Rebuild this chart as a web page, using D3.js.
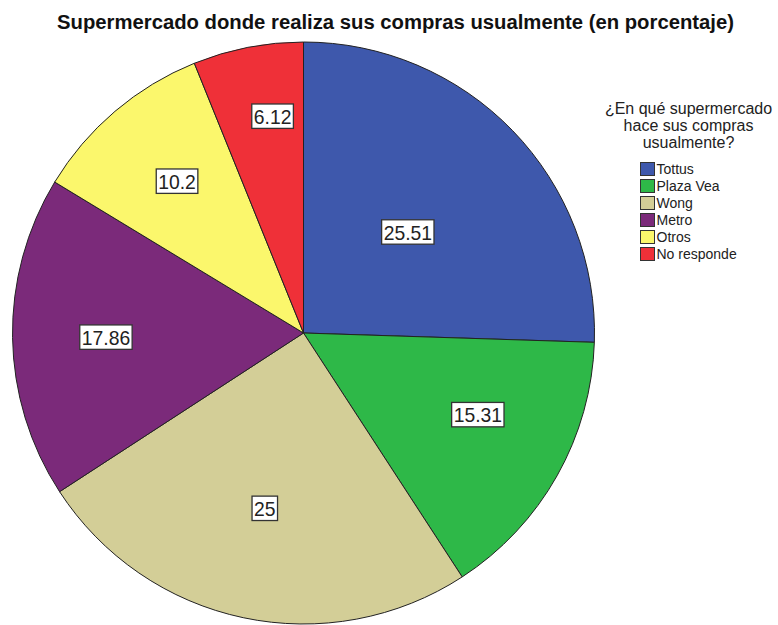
<!DOCTYPE html>
<html><head><meta charset="utf-8">
<script src="https://cdn.jsdelivr.net/npm/d3@7"></script>
<style>body{margin:0;background:#fff;}svg{display:block;}text{font-family:"Liberation Sans",Arial,sans-serif;}</style>
</head><body>
<svg id="c" width="778" height="625"></svg>
<script>
const categories = ["Tottus","Plaza Vea","Wong","Metro","Otros","No responde"];
const values = [25.51,15.31,25,17.86,10.2,6.12];
const labels = ["25.51","15.31","25","17.86","10.2","6.12"];
const colors = ["#3e58ac","#2eb848","#d3ce97","#7b2a7a","#fbf76c","#ef3038"];
// label placement tweaks (layout only)
const labelRadiusFrac = [0.499,0.6615,0.617,0.679,0.679,0.7526];
const labelAngleShift = [0,-4.3,0.5,-0.3,0.6,2.9];
const titleText = "Supermercado donde realiza sus compras usualmente (en porcentaje)";
const legendTitle = ["¿En qué supermercado","hace sus compras","usualmente?"];

const svg = d3.select("#c");
const cx = 303.5, cy = 333, r = 291;

svg.append("text").attr("x",395.5).attr("y",29).attr("text-anchor","middle")
  .attr("font-size",20).attr("font-weight","bold").attr("fill","#111")
  .attr("textLength",677).attr("lengthAdjust","spacingAndGlyphs").text(titleText);

const pie = d3.pie().sort(null).value(d=>d)(values);
const arc = d3.arc().innerRadius(0).outerRadius(r);
const g = svg.append("g").attr("transform",`translate(${cx},${cy})`);
g.selectAll("path.s").data(pie).join("path").attr("class","s")
  .attr("d",arc).attr("fill",(d,i)=>colors[i]).attr("stroke","#222").attr("stroke-width",1);

const lg = g.selectAll("g.l").data(pie).join("g").attr("class","l")
  .attr("transform",(d,i)=>{
    const a = (d.startAngle+d.endAngle)/2 + labelAngleShift[i]*Math.PI/180;
    const rr = r*labelRadiusFrac[i];
    return `translate(${rr*Math.sin(a)},${-rr*Math.cos(a)})`;});
lg.each(function(d,i){
  const s=d3.select(this);
  const t=s.append("text").attr("text-anchor","middle").attr("dy","0.37em")
    .attr("font-size",21).attr("fill","#222").text(labels[i]);
  const w=t.node().getComputedTextLength()*0.92;
  t.attr("textLength",w).attr("lengthAdjust","spacingAndGlyphs");
  s.insert("rect","text").attr("x",-w/2-2).attr("y",-12.2).attr("width",w+4).attr("height",24.4)
    .attr("fill","#fff").attr("stroke","#333").attr("stroke-width",1.3);
});

const lx = 688.5;
svg.selectAll("text.lt").data(legendTitle).join("text").attr("class","lt")
  .attr("x",lx).attr("y",(d,i)=>114+i*17).attr("text-anchor","middle")
  .attr("font-size",16).attr("fill","#222").text(d=>d);
const items = svg.selectAll("g.li").data(categories).join("g").attr("class","li")
  .attr("transform",(d,i)=>`translate(640.5,${162.5+i*17})`);
items.append("rect").attr("width",14).attr("height",13).attr("fill",(d,i)=>colors[i])
  .attr("stroke","#333").attr("stroke-width",1);
items.append("text").attr("x",16).attr("y",11.5).attr("font-size",14).attr("fill","#222").text(d=>d);
</script>
</body></html>
